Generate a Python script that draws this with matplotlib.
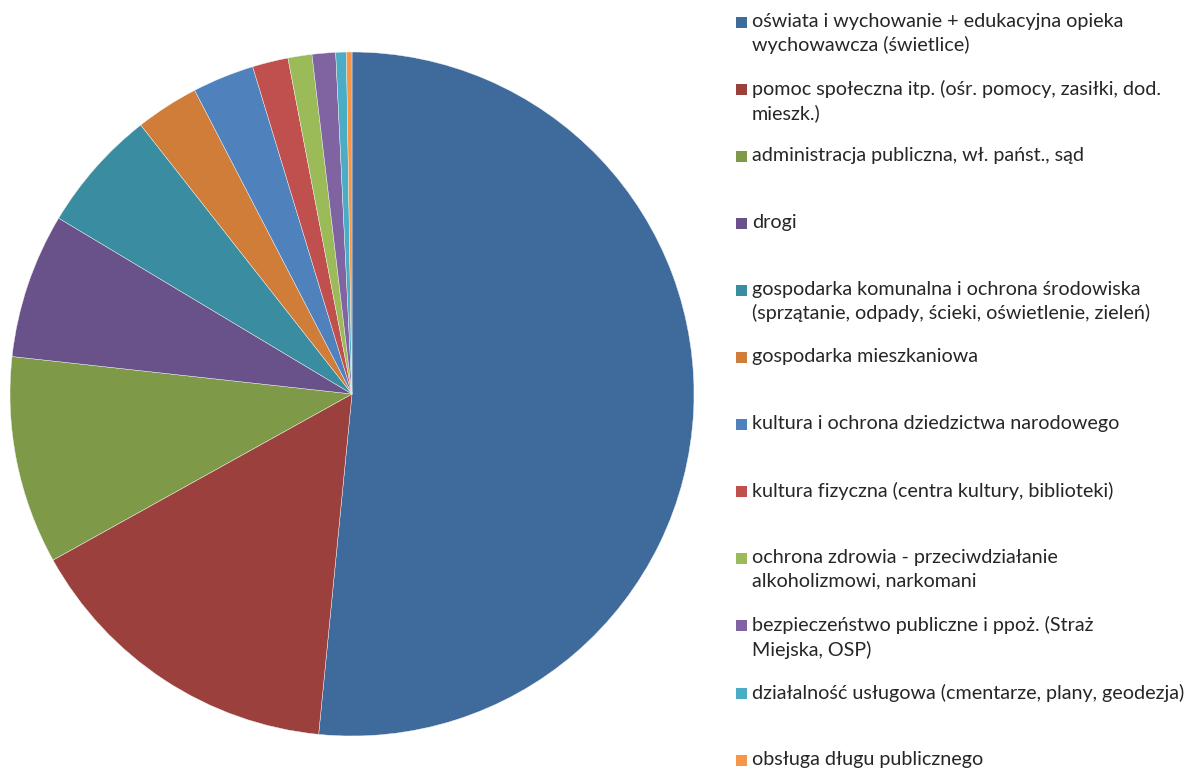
import matplotlib.pyplot as plt
from matplotlib.patches import Rectangle

# Share of spending by category (%)
categories = [
    "oświata i wychowanie + edukacyjna opieka\nwychowawcza (świetlice)",
    "pomoc społeczna itp. (ośr. pomocy, zasiłki, dod.\nmieszk.)",
    "administracja publiczna, wł. państ., sąd",
    "drogi",
    "gospodarka komunalna i ochrona środowiska\n(sprzątanie, odpady, ścieki, oświetlenie, zieleń)",
    "gospodarka mieszkaniowa",
    "kultura i ochrona dziedzictwa narodowego",
    "kultura fizyczna (centra kultury, biblioteki)",
    "ochrona zdrowia - przeciwdziałanie\nalkoholizmowi, narkomani",
    "bezpieczeństwo publiczne i ppoż. (Straż\nMiejska, OSP)",
    "działalność usługowa (cmentarze, plany, geodezja)",
    "obsługa długu publicznego",
]
shares = [51.57, 15.38, 9.82, 6.85, 5.81, 2.99, 2.92, 1.69, 1.13, 1.11, 0.50, 0.26]
colors = ["#3F6A9C", "#9C403D", "#7E9A48", "#69518A", "#3A8CA1", "#CF7D38",
          "#4F81BD", "#C0504D", "#9BBB59", "#8064A2", "#4BACC6", "#F79646"]

plt.rcParams['font.family'] = ['Lato', 'DejaVu Sans']

W, H = 1192, 769
fig = plt.figure(figsize=(W / 100, H / 100), dpi=100)

# pie area: centre (352, 394) px, radius 342 px
cx, cy, r = 352, 394, 342
ax = fig.add_axes([(cx - r) / W, (H - cy - r) / H, 2 * r / W, 2 * r / H])
ax.pie(shares, colors=colors, startangle=90, counterclock=False, radius=1,
       wedgeprops=dict(edgecolor="#f4f4f4", linewidth=0.3))
ax.set_xlim(-1, 1)
ax.set_ylim(-1, 1)
ax.set_aspect("equal")
ax.axis("off")

# legend drawn as fixed-height slots like the original
first_y, step = 22, 67.1
box = 11
for i, (lab, col) in enumerate(zip(categories, colors)):
    y = first_y + i * step
    fig.patches.append(Rectangle((736 / W, (H - y - box / 2) / H), box / W, box / H,
                                 transform=fig.transFigure, facecolor=col,
                                 edgecolor="none"))
    fig.text(752 / W, (H - y + 9.5) / H, lab, fontsize=14.2, color="#262626",
             va="top", ha="left", linespacing=1.42)

fig.savefig("out.png", dpi=100)
